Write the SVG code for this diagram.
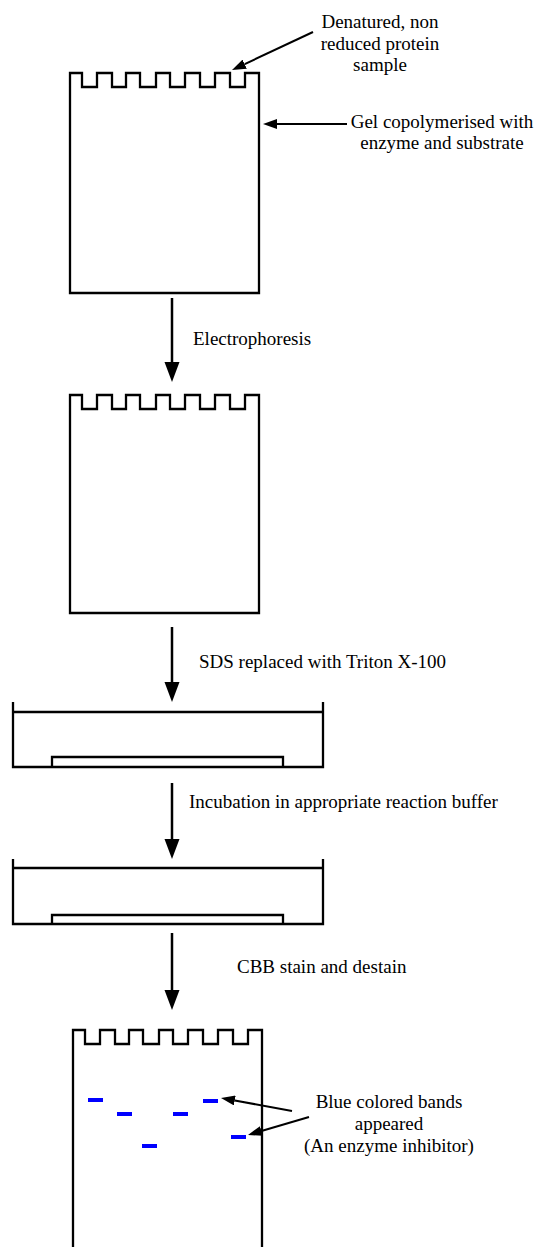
<svg xmlns="http://www.w3.org/2000/svg" width="536" height="1247" viewBox="0 0 536 1247">
<style>
.out{fill:none;stroke:#000;stroke-width:2.3;stroke-linejoin:miter}
.conn{fill:none;stroke:#000;stroke-width:2.5}
.ptr{fill:none;stroke:#000;stroke-width:2}
.t{font-family:'Liberation Serif','Times New Roman',serif;font-size:19px;fill:#000}
.mid{text-anchor:middle}
.band{fill:#0000ff}
</style>
<defs>
<marker id="ah" markerUnits="userSpaceOnUse" viewBox="0 -8 20 16" markerWidth="20" markerHeight="16" refX="0" refY="0" orient="auto">
<path d="M0,-7.5 L20,0 L0,7.5 Z" fill="#000"/>
</marker>
<marker id="ph" markerUnits="userSpaceOnUse" viewBox="0 -5 14 10" markerWidth="14" markerHeight="10" refX="0" refY="0" orient="auto">
<path d="M0,-5 L14,0 L0,5 Z" fill="#000"/>
</marker>
</defs>
<rect width="536" height="1247" fill="#fff"/>

<g id="gel1">
<path class="out" d="M70,293 V73 H82 V87 H97 V73 H112 V87 H126 V73 H140 V87 H156 V73 H170 V87 H185 V73 H200 V87 H215 V73 H230 V87 H245 V73 H259 V293 Z"/>
</g>
<g id="label-sample">
<text class="t mid" x="380" y="28">Denatured, non</text>
<text class="t mid" x="380" y="50">reduced protein</text>
<text class="t mid" x="380" y="71">sample</text>
</g>
<g id="label-gel">
<text class="t mid" x="442" y="128">Gel copolymerised with</text>
<text class="t mid" x="442" y="149">enzyme and substrate</text>
</g>

<g id="gel2">
<path class="out" d="M70,613 V395 H82 V409 H97 V395 H112 V409 H126 V395 H140 V409 H156 V395 H170 V409 H185 V395 H200 V409 H215 V395 H230 V409 H245 V395 H259 V613 Z"/>
</g>

<g id="tray1">
<path class="out" d="M13,702 V767 H323 V702 M13,712 H323"/>
<path class="out" d="M52,767 V757 H283 V767"/>
</g>

<g id="tray2">
<path class="out" d="M13,859 V924 H323 V859 M13,868 H323"/>
<path class="out" d="M52,924 V915 H283 V924"/>
</g>

<g id="gel3">
<path class="out" d="M73,1252 V1030 H85 V1044 H100 V1030 H115 V1044 H129 V1030 H143 V1044 H159 V1030 H173 V1044 H188 V1030 H203 V1044 H218 V1030 H233 V1044 H248 V1030 H262 V1252"/>
<rect class="band" x="88" y="1098" width="15" height="4"/>
<rect class="band" x="117" y="1112" width="15" height="4"/>
<rect class="band" x="173" y="1112" width="15" height="4"/>
<rect class="band" x="203" y="1099" width="15" height="4"/>
<rect class="band" x="142" y="1144" width="15" height="4"/>
<rect class="band" x="231" y="1135" width="15" height="4"/>
</g>
<g id="label-bands">
<text class="t mid" x="389" y="1108">Blue colored bands</text>
<text class="t mid" x="389" y="1130">appeared</text>
<text class="t mid" x="389" y="1152">(An enzyme inhibitor)</text>
</g>

<g id="step-labels">
<text class="t" x="193" y="345">Electrophoresis</text>
<text class="t" x="199" y="668">SDS replaced with Triton X-100</text>
<text class="t" x="189" y="808">Incubation in appropriate reaction buffer</text>
<text class="t" x="237" y="973">CBB stain and destain</text>
</g>

<g id="connectors">
<line class="conn" x1="172" y1="298" x2="172" y2="362" marker-end="url(#ah)"/>
<line class="conn" x1="172" y1="627" x2="172" y2="682" marker-end="url(#ah)"/>
<line class="conn" x1="172" y1="783" x2="172" y2="839" marker-end="url(#ah)"/>
<line class="conn" x1="172" y1="933" x2="172" y2="990" marker-end="url(#ah)"/>
<line class="ptr" x1="313" y1="32" x2="244.7" y2="64.1" marker-end="url(#ph)"/>
<line class="ptr" x1="347" y1="124" x2="277" y2="124" marker-end="url(#ph)"/>
<line class="ptr" x1="292" y1="1111" x2="234.8" y2="1100.5" marker-end="url(#ph)"/>
<line class="ptr" x1="309" y1="1117" x2="261.4" y2="1131" marker-end="url(#ph)"/>
</g>
</svg>
